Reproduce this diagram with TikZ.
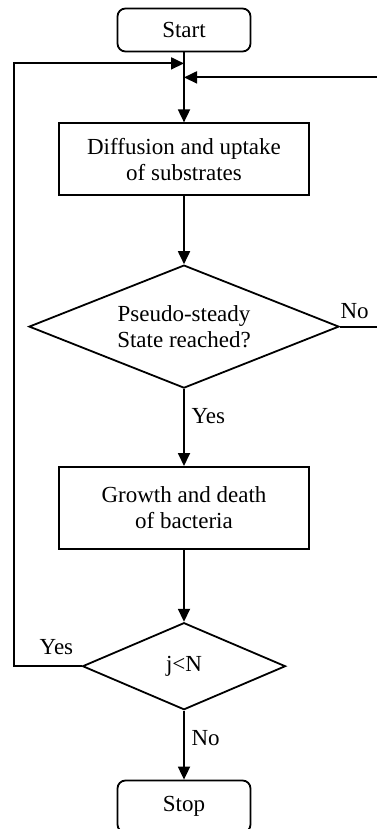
\documentclass[tikz,border=0pt]{standalone}
\usepackage{fontspec}
\setmainfont{Liberation Serif}
\usetikzlibrary{arrows.meta,shapes,positioning,calc}

\begin{document}
\begin{tikzpicture}[
    x=1pt, y=1pt, line width=0.9pt,
    node distance=35pt,
    every node/.style={font=\fontsize{11.5}{13}\selectfont},
    terminal/.style={rectangle, draw, rounded corners=4pt, minimum width=66.5pt, minimum height=21.5pt, align=center},
    process/.style={rectangle, draw, minimum width=125pt, align=center},
    decision/.style={diamond, draw, inner sep=0pt, align=center},
    flow/.style={-{Triangle[length=6.5pt,width=6pt]}}
]
    \useasboundingbox (0,0) rectangle (188,-414.5);

    \node[terminal] (start) at (92,-15) {Start};
    \node[process, minimum height=36pt, below=of start] (diffusion) {Diffusion and uptake\\of substrates};
    \node[decision, aspect=2.52, minimum width=155pt, minimum height=61.5pt, below=34pt of diffusion] (steady) {Pseudo-steady\\State reached?};
    \node[process, minimum height=41pt, below=38.5pt of steady] (growth) {Growth and death\\of bacteria};
    \node[decision, aspect=2.33, minimum width=101.5pt, minimum height=43.5pt, below=36pt of growth] (count) {j<N};
    \node[terminal, minimum height=26pt, below=34.5pt of count] (stop) {Stop};

    % where the two loops come back in
    \coordinate (joinleft) at ([yshift=-5.5pt]start.south);
    \coordinate (joinright) at ([yshift=-12.5pt]start.south);

    \draw[flow] (start) -- (diffusion);
    \draw[flow] (diffusion) -- (steady);
    \draw[flow] (steady) -- node[right, pos=0.35] {Yes} (growth);
    \draw[flow] (growth) -- (count);
    \draw[flow] (count) -- node[right, pos=0.4] {No} (stop);
    \draw[flow] (count.west) -- node[above, pos=0.37, yshift=2pt] {Yes} ++(-34,0) |- (joinleft);
    \draw[flow] (steady.east) -- node[above, pos=0.35] {No} ++(21,0) |- (joinright);
\end{tikzpicture}
\end{document}
